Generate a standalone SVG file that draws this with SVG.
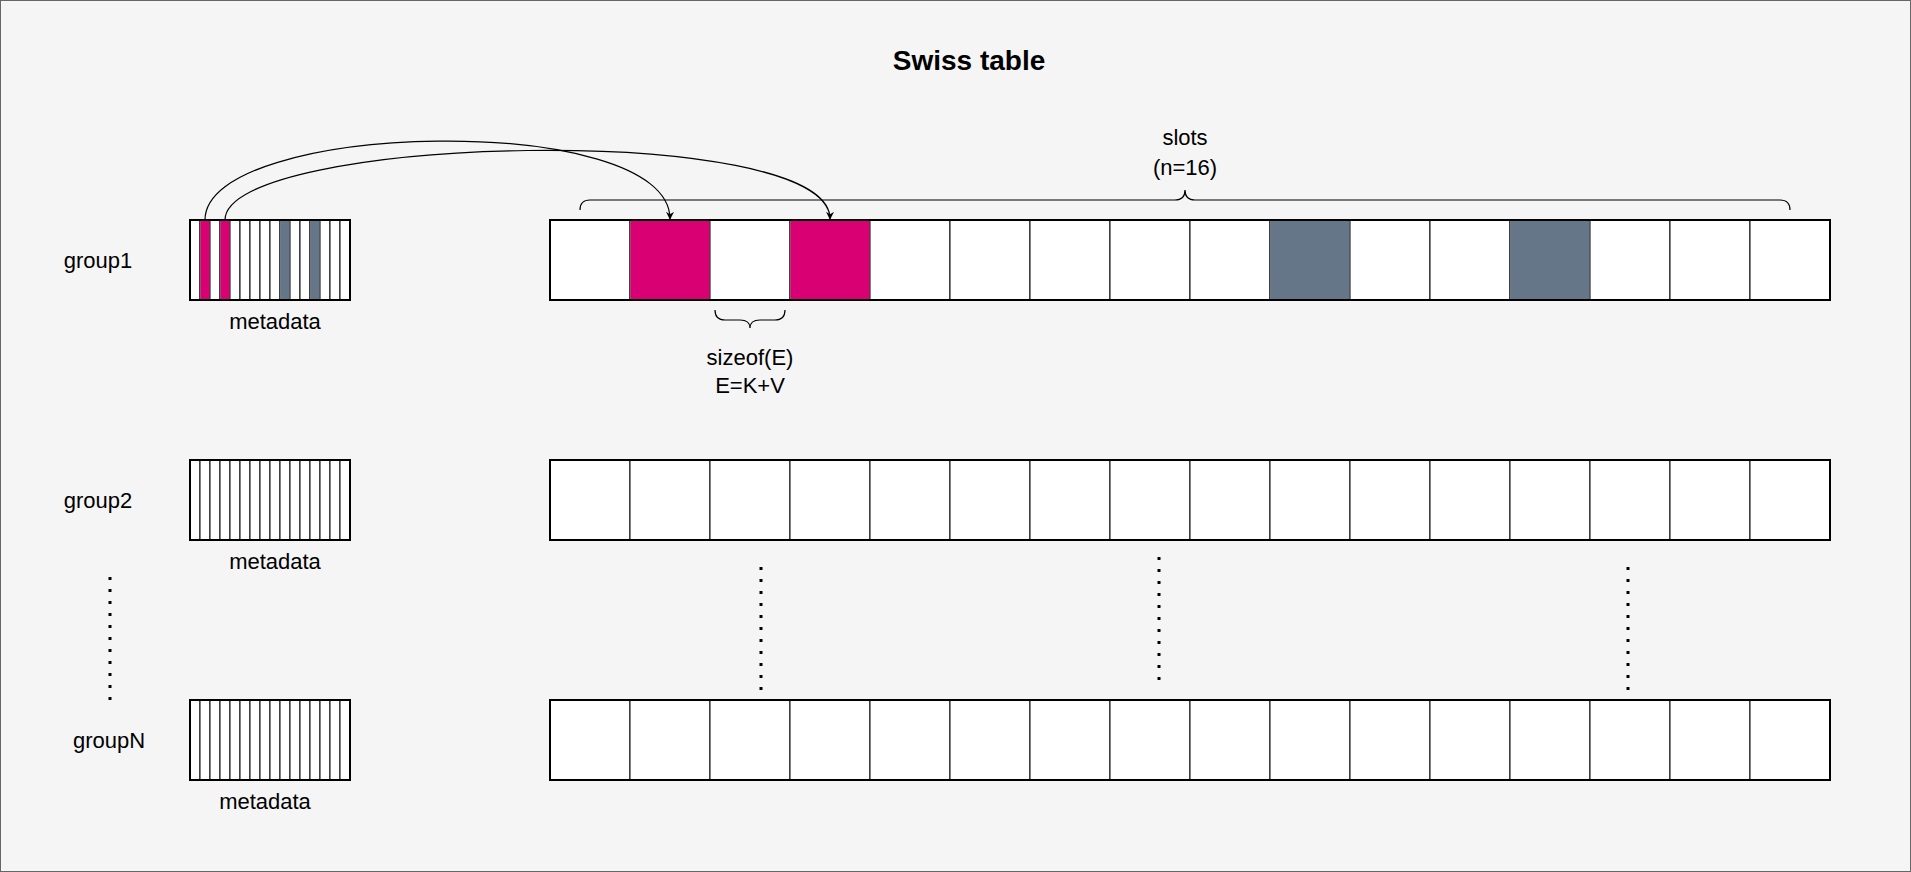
<svg xmlns="http://www.w3.org/2000/svg" width="1911" height="872" viewBox="0 0 1911 872">
<style>
text{font-family:"Liberation Sans",Arial,sans-serif;font-size:22px;fill:#000;text-anchor:middle}
.t{font-size:28px;font-weight:bold}
.c{fill:#fff;stroke:#000;stroke-width:1}
.p{fill:#d80073;stroke:none}
.g{fill:#647687;stroke:none}
.o{fill:none;stroke:#000;stroke-width:2}
.dot{fill:none;stroke:#000;stroke-width:3;stroke-dasharray:3 9}
.e{fill:none;stroke:#000;stroke-width:1.2}
</style>
<defs>
<marker id="ar" viewBox="0 0 10 10" refX="9" refY="5" markerWidth="8" markerHeight="8" markerUnits="userSpaceOnUse" orient="auto"><path d="M0,0 L10,5 L0,10 L3,5 Z" fill="#000"/></marker>
<g id="meta"><rect class="c" x="0" y="0" width="10" height="80"/><rect class="c" x="10" y="0" width="10" height="80"/><rect class="c" x="20" y="0" width="10" height="80"/><rect class="c" x="30" y="0" width="10" height="80"/><rect class="c" x="40" y="0" width="10" height="80"/><rect class="c" x="50" y="0" width="10" height="80"/><rect class="c" x="60" y="0" width="10" height="80"/><rect class="c" x="70" y="0" width="10" height="80"/><rect class="c" x="80" y="0" width="10" height="80"/><rect class="c" x="90" y="0" width="10" height="80"/><rect class="c" x="100" y="0" width="10" height="80"/><rect class="c" x="110" y="0" width="10" height="80"/><rect class="c" x="120" y="0" width="10" height="80"/><rect class="c" x="130" y="0" width="10" height="80"/><rect class="c" x="140" y="0" width="10" height="80"/><rect class="c" x="150" y="0" width="10" height="80"/></g>
<g id="slots"><rect class="c" x="0" y="0" width="80" height="80"/><rect class="c" x="80" y="0" width="80" height="80"/><rect class="c" x="160" y="0" width="80" height="80"/><rect class="c" x="240" y="0" width="80" height="80"/><rect class="c" x="320" y="0" width="80" height="80"/><rect class="c" x="400" y="0" width="80" height="80"/><rect class="c" x="480" y="0" width="80" height="80"/><rect class="c" x="560" y="0" width="80" height="80"/><rect class="c" x="640" y="0" width="80" height="80"/><rect class="c" x="720" y="0" width="80" height="80"/><rect class="c" x="800" y="0" width="80" height="80"/><rect class="c" x="880" y="0" width="80" height="80"/><rect class="c" x="960" y="0" width="80" height="80"/><rect class="c" x="1040" y="0" width="80" height="80"/><rect class="c" x="1120" y="0" width="80" height="80"/><rect class="c" x="1200" y="0" width="80" height="80"/></g>
</defs>
<rect x="0.5" y="0.5" width="1910" height="871" fill="#f5f5f5" stroke="#666" stroke-width="1"/>
<text class="t" x="969" y="70">Swiss table</text>

<g id="group1">
<text x="98" y="268">group1</text>
<use href="#meta" x="190" y="220"/>
<rect class="p" x="200.5" y="220.5" width="9" height="79"/>
<rect class="p" x="220.5" y="220.5" width="9" height="79"/>
<rect class="g" x="280.5" y="220.5" width="9" height="79"/>
<rect class="g" x="310.5" y="220.5" width="9" height="79"/>
<rect class="o" x="190" y="220" width="160" height="80"/>
<text x="275" y="329">metadata</text>
<use href="#slots" x="550" y="220"/>
<rect class="p" x="630.5" y="220.5" width="79" height="79"/>
<rect class="p" x="790.5" y="220.5" width="79" height="79"/>
<rect class="g" x="1270.5" y="220.5" width="79" height="79"/>
<rect class="g" x="1510.5" y="220.5" width="79" height="79"/>
<rect class="o" x="550" y="220" width="1280" height="80"/>
</g>

<g id="slots-label">
<path class="e" d="M580,210 Q580,200 590,200 L1175,200 Q1185,200 1185,190 Q1185,200 1195,200 L1780,200 Q1790,200 1790,210"/>
<text x="1185" y="145">slots</text>
<text x="1185" y="175">(n=16)</text>
</g>

<g id="sizeof-label">
<path class="e" d="M715,310 Q715,320 725,320 L740,320 Q750,320 750,328 Q750,320 760,320 L775,320 Q785,320 785,310"/>
<text x="750" y="365">sizeof(E)</text>
<text x="750" y="393">E=K+V</text>
</g>

<g id="group2">
<text x="98" y="508">group2</text>
<use href="#meta" x="190" y="460"/>
<rect class="o" x="190" y="460" width="160" height="80"/>
<text x="275" y="569">metadata</text>
<use href="#slots" x="550" y="460"/>
<rect class="o" x="550" y="460" width="1280" height="80"/>
</g>

<g id="groupN">
<text x="109" y="748">groupN</text>
<use href="#meta" x="190" y="700"/>
<rect class="o" x="190" y="700" width="160" height="80"/>
<text x="265" y="809">metadata</text>
<use href="#slots" x="550" y="700"/>
<rect class="o" x="550" y="700" width="1280" height="80"/>
</g>

<g id="ellipses">
<line class="dot" x1="110" y1="577" x2="110" y2="700"/>
<line class="dot" x1="761" y1="567" x2="761" y2="690"/>
<line class="dot" x1="1159" y1="557" x2="1159" y2="680"/>
<line class="dot" x1="1628" y1="567" x2="1628" y2="690"/>
</g>

<g id="connectors">
<path class="e" d="M205,220 C205,120 670,110 670,219" marker-end="url(#ar)"/>
<path class="e" d="M225,220 C225,135 830,120 830,219" marker-end="url(#ar)"/>
</g>
</svg>
